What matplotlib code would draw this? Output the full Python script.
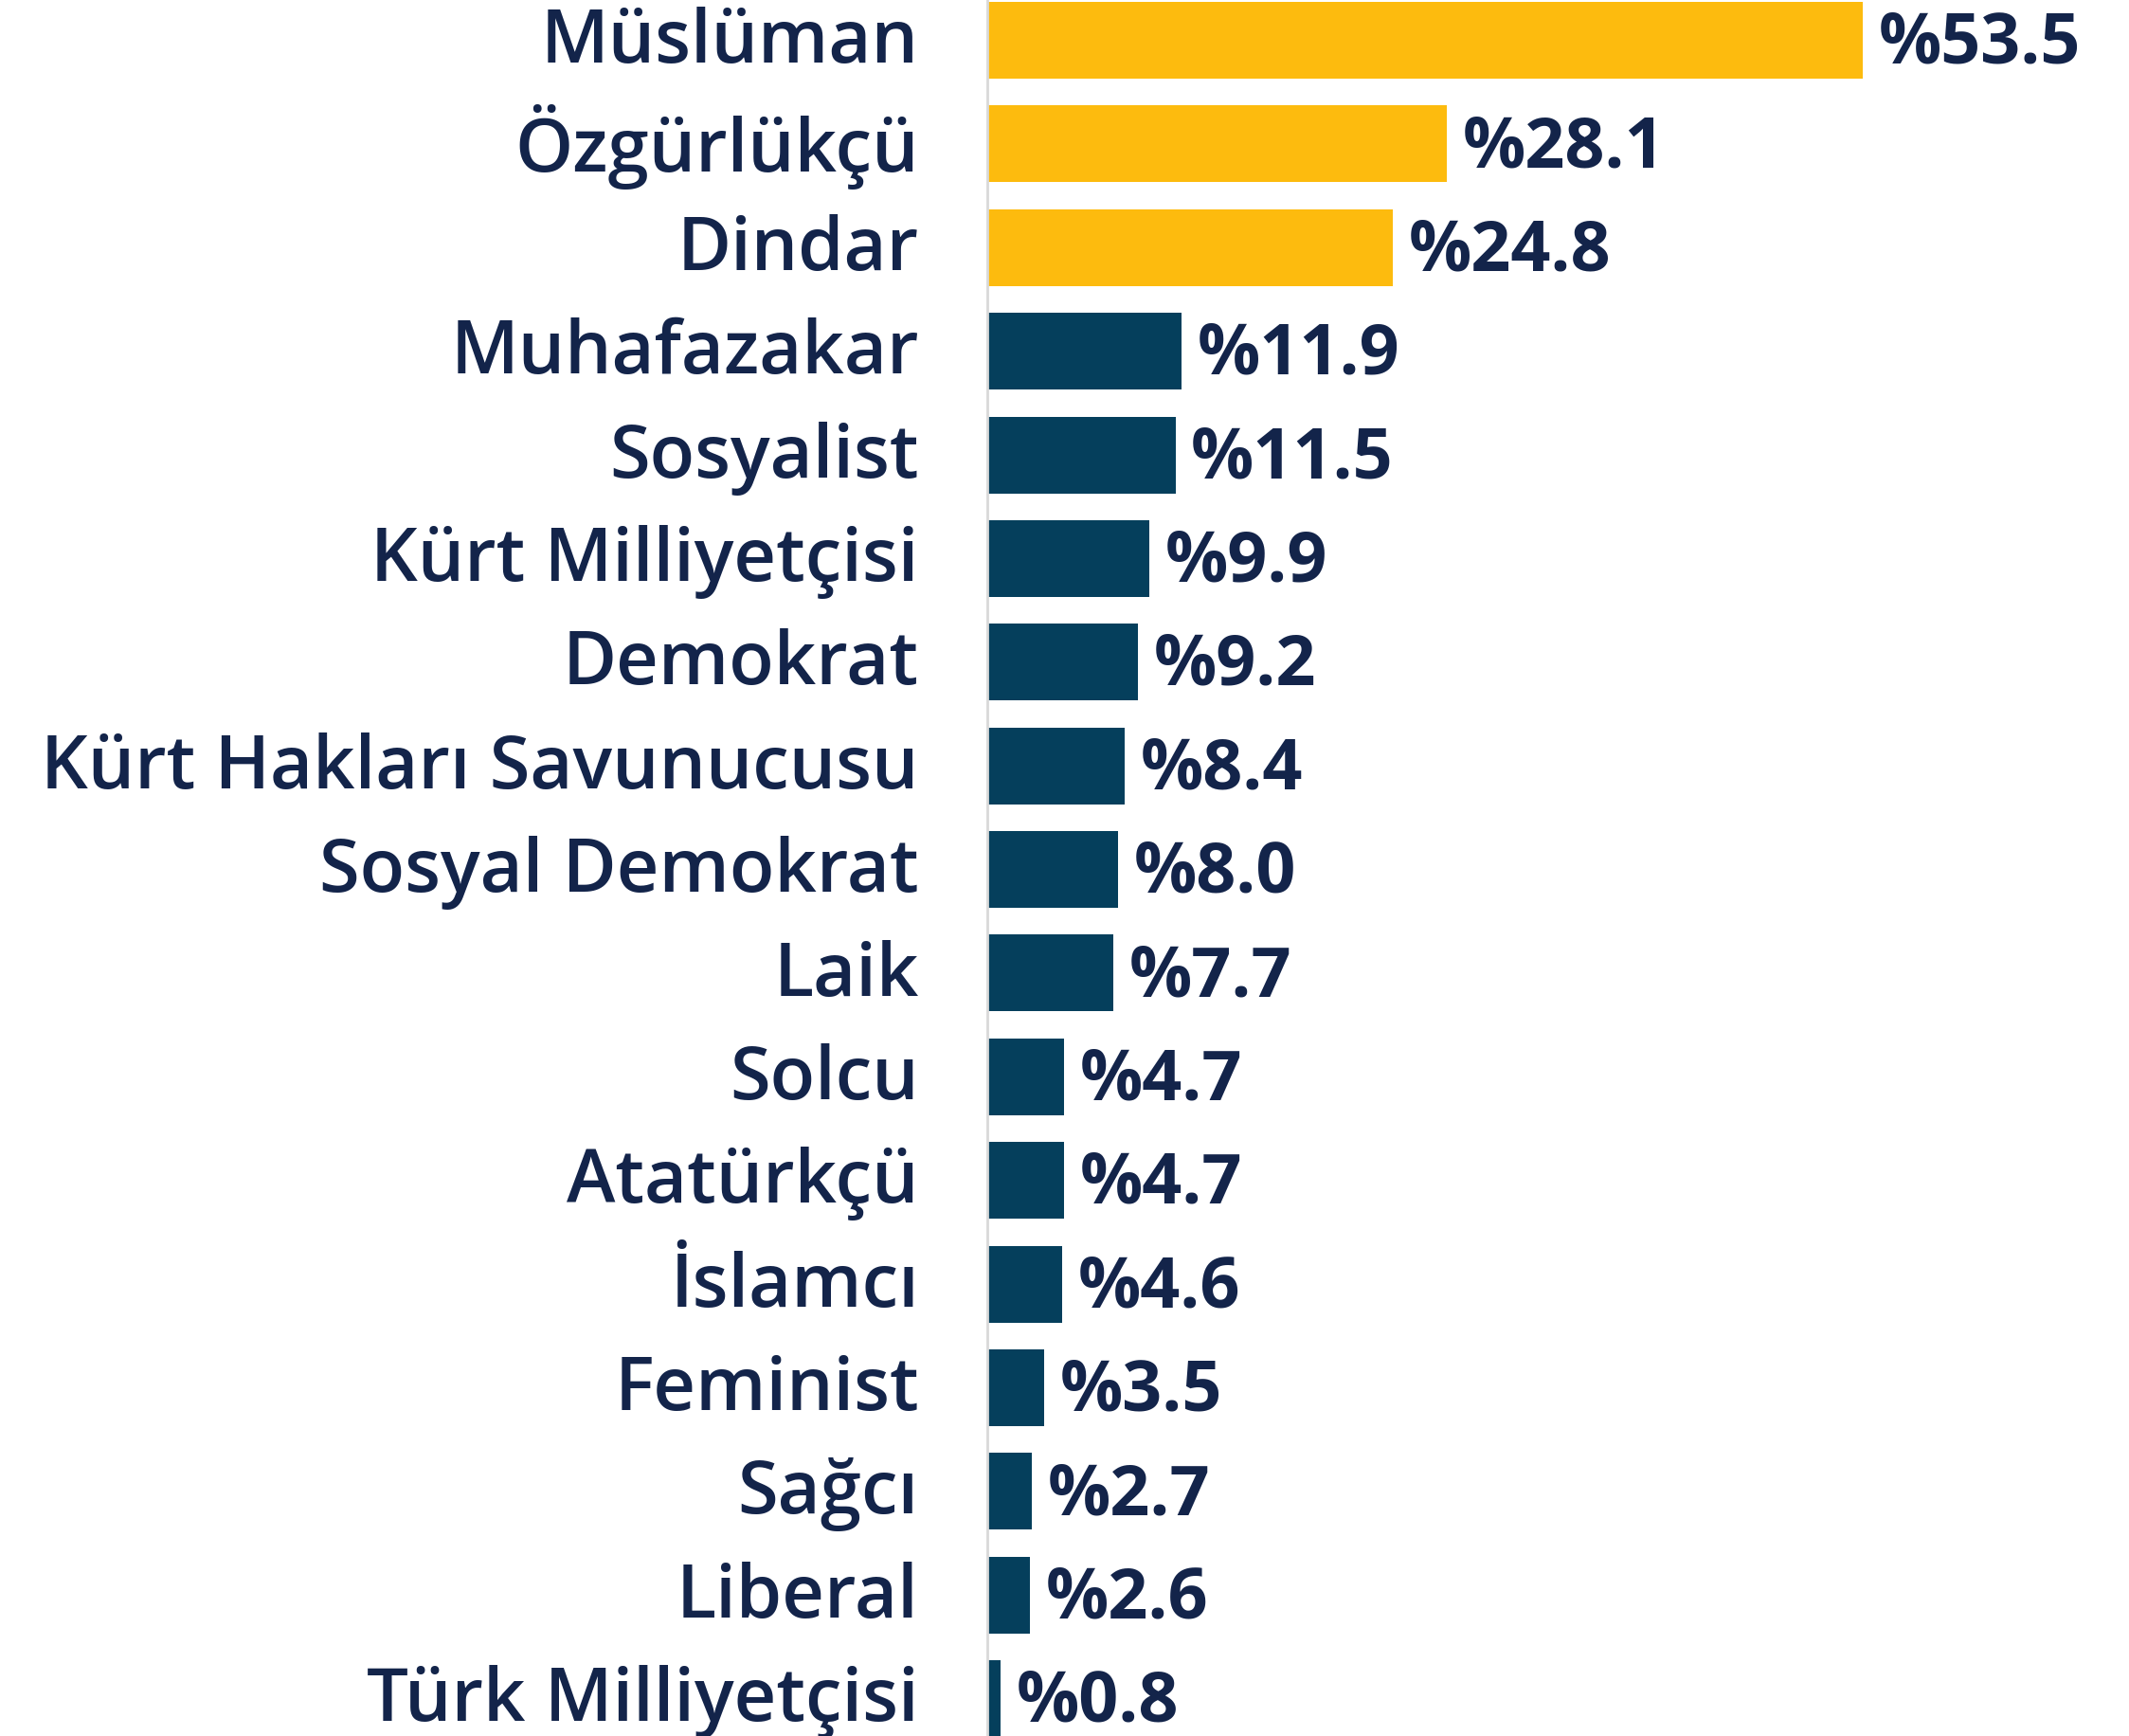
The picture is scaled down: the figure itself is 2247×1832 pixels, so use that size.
import matplotlib

matplotlib.use("Agg")
import matplotlib.pyplot as plt

categories = [
    "Müslüman", "Özgürlükçü", "Dindar", "Muhafazakar", "Sosyalist",
    "Kürt Milliyetçisi", "Demokrat", "Kürt Hakları Savunucusu",
    "Sosyal Demokrat", "Laik", "Solcu", "Atatürkçü", "İslamcı",
    "Feminist", "Sağcı", "Liberal", "Türk Milliyetçisi",
]
values = [53.5, 28.1, 24.8, 11.9, 11.5, 9.9, 9.2, 8.4, 8.0, 7.7,
          4.7, 4.7, 4.6, 3.5, 2.7, 2.6, 0.8]
highlight = [True, True, True] + [False] * 14

GOLD = "#FDBB0E"
NAVY = "#053F5C"
TEXT = "#13244A"

plt.rcParams["font.family"] = ["Open Sans", "DejaVu Sans"]

fig = plt.figure(figsize=(22.47, 18.33), dpi=100)
ax = fig.add_axes([1042 / 2247, 0, 1 - 1042 / 2247, 1])

ys = range(len(categories))
colors = [GOLD if h else NAVY for h in highlight]
ax.barh(ys, values, height=0.74, color=colors)

for y, v, name in zip(ys, values, categories):
    ax.annotate(f"%{v:.1f}", (v, y), xytext=(12, -3), textcoords="offset points",
                va="center", ha="left", fontsize=53, fontweight="bold", color=TEXT)
    ax.annotate(name, (0, y), xytext=(-52, 5), textcoords="offset points",
                va="center_baseline", ha="right", fontsize=56,
                fontweight="semibold", color=TEXT, annotation_clip=False)

ax.set_yticks([])
ax.set_xticks([])
ax.set_xlim(0, 69.8)
ax.set_ylim(16.36, -0.398)

for side in ["top", "right", "bottom"]:
    ax.spines[side].set_visible(False)
ax.spines["left"].set_color("#D9D9D9")
ax.spines["left"].set_linewidth(2)

fig.savefig("out.png", dpi=100)
